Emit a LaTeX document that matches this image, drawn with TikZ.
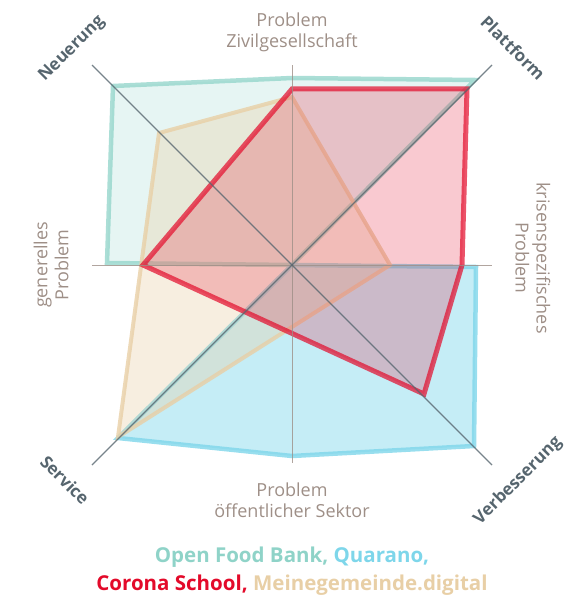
\documentclass[tikz,border=0pt]{standalone}
\usepackage{fontspec}
\setmainfont{Open Sans}
\usepackage{tikz}
\usetikzlibrary{arrows,shapes}
\definecolor{foodbank}{HTML}{8FD3C8}
\definecolor{quarano}{HTML}{7ED6EA}
\definecolor{corona}{HTML}{E30A2A}
\definecolor{gemeinde}{HTML}{E8CFA6}
\definecolor{axisgrey}{HTML}{9E8F87}
\definecolor{slate}{HTML}{56656E}
\tikzstyle{axis}=[draw=axisgrey,line width=1pt,opacity=0.8]
\tikzstyle{diag}=[draw=slate,line width=1.1pt,opacity=0.8]
\tikzstyle{problem}=[text=axisgrey,font=\fontsize{18}{21}\selectfont,align=center,inner sep=0pt]
\tikzstyle{corner}=[text=slate,font=\fontsize{17}{20}\selectfont\bfseries,inner sep=0pt]
\tikzstyle{area}=[line width=4.5pt,line join=miter]
\tikzstyle{legend}=[font=\fontsize{20.5}{28}\selectfont\bfseries,inner sep=0pt]

\begin{document}
\begin{tikzpicture}[x=1pt,y=-1pt]
	\useasboundingbox (0,0) rectangle (572,599);
	\coordinate (c) at (292,265);
	% the end points of the axes
	\foreach \x/\y/\name in {292/65/n, 492/65/ne, 492/265/e,
	                         492/465/se, 292/463/s, 92/465/sw,
	                         92/265/w, 92/65/nw}
		\coordinate (\name) at (\x,\y);

	% Open Food Bank
	\path[area,fill=foodbank,fill opacity=0.22,draw=foodbank,draw opacity=0.75]
		(292,78) -- (475,80) -- (c) -- (107,263) -- (113,86) -- cycle;
	% Quarano
	\path[area,fill=quarano,fill opacity=0.45,draw=quarano,draw opacity=0.8]
		(c) -- (476,267) -- (474,446) -- (292,456) -- (118,438) -- cycle;
	% Meinegemeinde.digital
	\path[area,line width=4pt,fill=gemeinde,fill opacity=0.35,draw=gemeinde,draw opacity=0.8]
		(292,97) -- (390,265) -- (118,437) -- (159,133) -- cycle;
	% Corona School
	\path[area,line width=5pt,fill=corona,fill opacity=0.22,draw=corona,draw opacity=0.7]
		(292,89) -- (467,89) -- (462,265) -- (424,394) -- (143,265) -- cycle;

	% draw the axes
	\foreach \name in {n,e,s,w}
		\path[axis] (c) -- (\name);
	\foreach \name in {ne,se,sw,nw}
		\path[diag] (c) -- (\name);

	% axis labels
	\node[problem] (top) at (292,32) {Problem\\Zivilgesellschaft};
	\node[problem] (bottom) at (292,500) {Problem\\öffentlicher Sektor};
	\node[problem,rotate=90] (left) at (51,265) {generelles\\Problem};
	\node[problem,rotate=-90] (right) at (533,258) {krisenspezifisches\\Problem};
	\foreach \x/\y/\name/\angle/\text in {72/49/neu/45/Neuerung, 513/48/platt/-45/Plattform,
	                                      65/480/serv/-45/Service, 518/481/verb/45/Verbesserung}
		\node[corner,rotate=\angle] (\name) at (\x,\y) {\text};

	% legend
	\node[legend] (legA) at (292,557) {\color{foodbank}Open Food Bank, \color{quarano}Quarano,};
	\node[legend] (legB) at (292,585) {\color{corona}Corona School, \color{gemeinde}Meinegemeinde.digital};
\end{tikzpicture}
\end{document}
